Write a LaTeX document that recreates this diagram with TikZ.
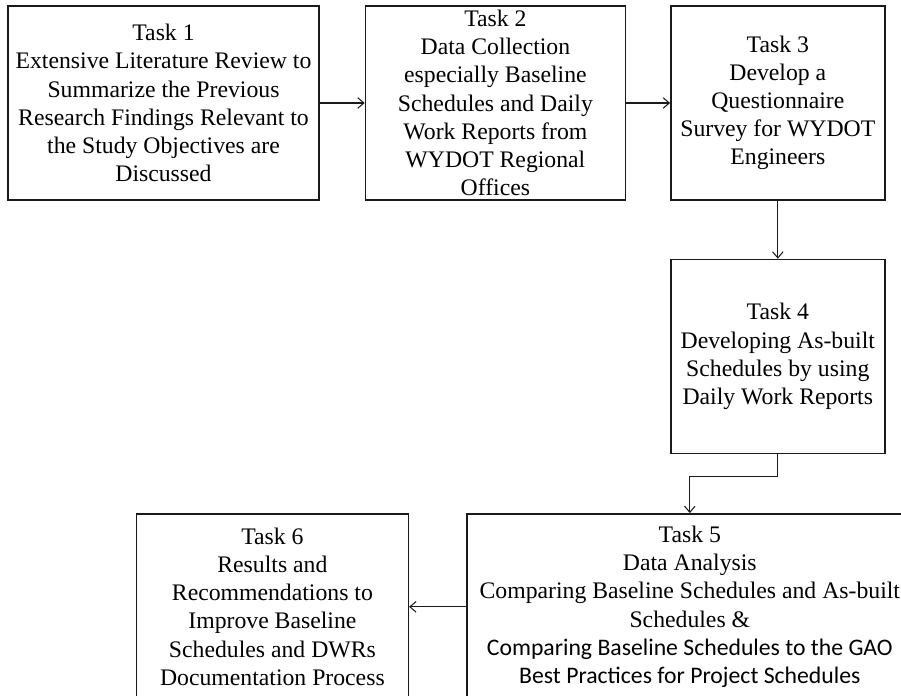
\documentclass[tikz,border=0pt]{standalone}
\usepackage{fontspec}
\setmainfont{Liberation Serif}
\newfontfamily\calibrifont{Carlito}
\usetikzlibrary{positioning, arrows.meta}
\definecolor{clrborder}{HTML}{1A1A1A}
\definecolor{clrtext}{HTML}{000000}

\begin{document}
\begin{tikzpicture}[
    every node/.style={font=\fontsize{13.5}{16}\selectfont},
    block/.style={draw=clrborder, line width=0.8pt, inner sep=0pt, align=center,
                  minimum width=4.28cm, minimum height=3.88cm, text=clrtext},
    arrow/.style={-{Straight Barb[length=3.5pt, width=6pt]}, color=clrborder, line width=0.6pt},
]
\path[use as bounding box, clip] (0,0) rectangle (18.02,-13.92);
\node[block, minimum width=6.22cm] (t1) at (3.27,-2.06) {Task 1\\Extensive Literature Review to\\Summarize the Previous\\Research Findings Relevant to\\the Study Objectives are\\Discussed};
\node[block, minimum width=5.2cm, right=0.9cm of t1] (t2) {Task 2\\Data Collection\\especially Baseline\\Schedules and Daily\\Work Reports from\\WYDOT Regional\\Offices};
\node[block, right=0.88cm of t2] (t3) {Task 3\\Develop a\\Questionnaire\\Survey for WYDOT\\Engineers};
\node[block, below=1.16cm of t3] (t4) {Task 4\\Developing As-built\\Schedules by using\\Daily Work Reports};
\node[block, minimum width=8.92cm, minimum height=3.72cm, below=1.18cm of t4, xshift=-1.76cm] (t5) {Task 5\\Data Analysis\\Comparing Baseline Schedules and As-built\\Schedules \&\\{\calibrifont Comparing Baseline Schedules to the GAO}\\{\calibrifont Best Practices for Project Schedules}};
\node[block, minimum width=5.44cm, minimum height=3.72cm, left=1.14cm of t5] (t6) {Task 6\\Results and\\Recommendations to\\Improve Baseline\\Schedules and DWRs\\Documentation Process};
\draw[arrow] (t1) -- (t2);
\draw[arrow] (t2) -- (t3);
\draw[arrow] (t3) -- (t4);
\draw[arrow] (t4.south) -- ++(0,-0.44) -| (t5.north);
\draw[arrow] (t5) -- (t6);
\end{tikzpicture}
\end{document}
